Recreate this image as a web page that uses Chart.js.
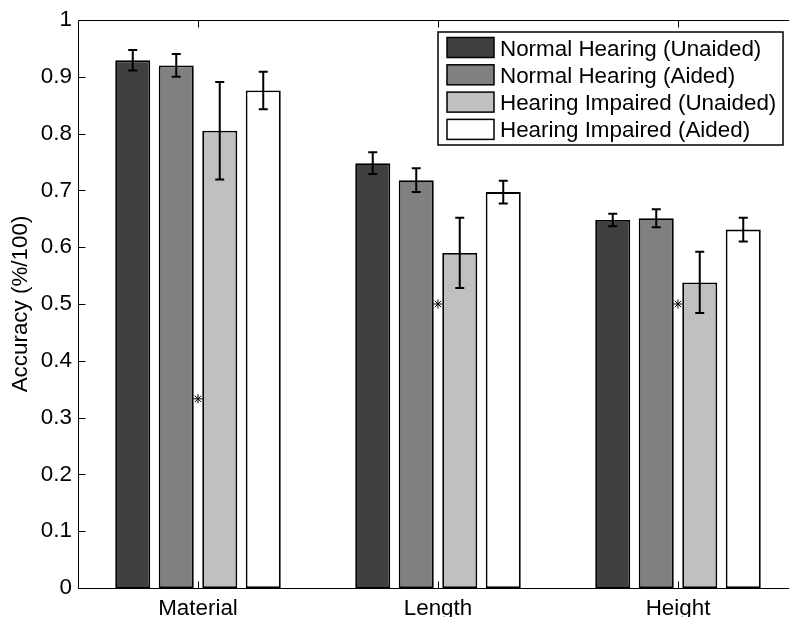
<!DOCTYPE html>
<html>
<head>
<meta charset="utf-8">
<script src="https://cdn.jsdelivr.net/npm/chart.js@4.4.1/dist/chart.umd.min.js"></script>
<style>
  html, body { margin: 0; padding: 0; background: #ffffff; overflow: hidden; }
  #wrap { width: 810px; height: 617px; }
</style>
</head>
<body>
<div id="wrap"><canvas id="c" width="810" height="617"></canvas></div>
<script>
// Task categories and y-axis tick labels
const categories = ['Material', 'Length', 'Height'];
const yTickLabels = ['0', '0.1', '0.2', '0.3', '0.4', '0.5', '0.6', '0.7', '0.8', '0.9', '1'];

// Group labels
const seriesNames = [
  'Normal Hearing (Unaided)',
  'Normal Hearing (Aided)',
  'Hearing Impaired (Unaided)',
  'Hearing Impaired (Aided)'
];

// Mean accuracy per group
const nhUnaided = [0.929, 0.748, 0.648];
const nhAided   = [0.920, 0.718, 0.651];
const hiUnaided = [0.805, 0.590, 0.538];
const hiAided   = [0.876, 0.697, 0.631];

// Error bar half-lengths per group
const nhUnaidedErr = [0.018, 0.019, 0.011];
const nhAidedErr   = [0.020, 0.021, 0.016];
const hiUnaidedErr = [0.086, 0.062, 0.054];
const hiAidedErr   = [0.033, 0.020, 0.021];

// Chance level for each task
const chanceLevel = [0.333, 0.5, 0.5];

const fills = ['#404040', '#808080', '#c0c0c0', '#ffffff'];
const FONT = '"Liberation Sans", Arial, Helvetica, sans-serif';
const FONT_SIZE = 22.4;

const values = [nhUnaided, nhAided, hiUnaided, hiAided];
const errors = [nhUnaidedErr, nhAidedErr, hiUnaidedErr, hiAidedErr];

const barSets = values.map((v, i) => ({
  type: 'bar',
  label: seriesNames[i],
  data: v,
  errors: errors[i],
  backgroundColor: fills[i],
  borderColor: '#000000',
  borderWidth: 1.8,
  borderSkipped: false,
  categoryPercentage: 0.725,
  barPercentage: 0.805,
  order: 2
}));

const chanceSet = {
  type: 'line',
  label: 'chance',
  data: chanceLevel,
  showLine: false,
  pointStyle: 'star',
  pointRadius: 4.5,
  pointBorderColor: '#000000',
  pointBackgroundColor: '#000000',
  pointBorderWidth: 1,
  order: 1
};

// Axes box with inward tick marks
const axesBox = {
  id: 'axesBox',
  afterDatasetsDraw(chart) {
    const { ctx, chartArea: a, scales } = chart;
    ctx.save();
    ctx.strokeStyle = '#000000';
    ctx.lineWidth = 1;
    ctx.beginPath();
    const L = Math.round(a.left) + 0.5, R = Math.round(a.right) + 0.5;
    const T = Math.round(a.top) + 0.5, B = Math.round(a.bottom) + 0.5;
    ctx.moveTo(L, T); ctx.lineTo(R, T); ctx.lineTo(R, B); ctx.lineTo(L, B); ctx.closePath();
    const tl = 7;
    scales.y.ticks.forEach((t, i) => {
      const y = Math.round(scales.y.getPixelForTick(i)) + 0.5;
      ctx.moveTo(L, y); ctx.lineTo(L + tl, y);
      ctx.moveTo(R, y); ctx.lineTo(R - tl, y);
    });
    categories.forEach((c, i) => {
      const x = Math.round(scales.x.getPixelForValue(i)) + 0.5;
      ctx.moveTo(x, B); ctx.lineTo(x, B - tl);
      ctx.moveTo(x, T); ctx.lineTo(x, T + tl);
    });
    ctx.stroke();
    ctx.restore();
  }
};

// Error bars on each bar
const errorBars = {
  id: 'errorBars',
  afterDatasetsDraw(chart) {
    const { ctx, scales } = chart;
    ctx.save();
    ctx.strokeStyle = '#000000';
    ctx.lineWidth = 2;
    chart.data.datasets.forEach((ds, di) => {
      if (!ds.errors) return;
      const meta = chart.getDatasetMeta(di);
      meta.data.forEach((bar, j) => {
        const v = ds.data[j], e = ds.errors[j];
        const yTop = scales.y.getPixelForValue(v + e);
        const yBot = scales.y.getPixelForValue(v - e);
        const x = bar.x, cap = 4.5;
        ctx.beginPath();
        ctx.moveTo(x, yTop); ctx.lineTo(x, yBot);
        ctx.moveTo(x - cap, yTop); ctx.lineTo(x + cap, yTop);
        ctx.moveTo(x - cap, yBot); ctx.lineTo(x + cap, yBot);
        ctx.stroke();
      });
    });
    ctx.restore();
  }
};

// Legend box in the upper right
const legendBox = {
  id: 'legendBox',
  afterDraw(chart) {
    const { ctx } = chart;
    const x0 = 438, y0 = 32, w = 345, h = 113;
    ctx.save();
    ctx.fillStyle = '#ffffff';
    ctx.fillRect(x0, y0, w, h);
    ctx.strokeStyle = '#000000';
    ctx.lineWidth = 1.5;
    ctx.strokeRect(x0, y0, w, h);
    ctx.font = FONT_SIZE + 'px ' + FONT;
    ctx.textBaseline = 'alphabetic';
    ctx.textAlign = 'left';
    const rowH = 27.3;
    chart.data.datasets.filter(d => d.type === 'bar').forEach((ds, i) => {
      const sy = 37.5 + i * rowH;
      ctx.fillStyle = ds.backgroundColor;
      ctx.fillRect(447, sy, 47, 20);
      ctx.lineWidth = 1.5;
      ctx.strokeRect(447, sy, 47, 20);
      ctx.fillStyle = '#000000';
      ctx.fillText(ds.label, 500, sy + 18);
    });
    ctx.restore();
  }
};

new Chart(document.getElementById('c'), {
  data: { labels: categories, datasets: [...barSets, chanceSet] },
  options: {
    responsive: false,
    animation: false,
    devicePixelRatio: 1,
    layout: { padding: { top: 20, right: 12, left: 0, bottom: 0 } },
    plugins: { legend: { display: false }, tooltip: { enabled: false } },
    scales: {
      x: {
        type: 'category',
        offset: true,
        grid: { display: false, drawTicks: false },
        border: { display: false },
        ticks: { color: '#000000', padding: 7, font: { family: FONT, size: FONT_SIZE }, maxRotation: 0 },
        afterFit(s) { s.height = 29; }
      },
      y: {
        min: 0,
        max: 1,
        grid: { display: false, drawTicks: false },
        border: { display: false },
        ticks: {
          stepSize: 0.1,
          color: '#000000',
          padding: 6,
          font: { family: FONT, size: FONT_SIZE },
          callback: (v, i) => yTickLabels[i]
        },
        title: {
          display: true,
          text: 'Accuracy (%/100)',
          color: '#000000',
          font: { family: FONT, size: FONT_SIZE },
          padding: { top: 7, bottom: 0 }
        },
        afterFit(s) { s.width = 78; }
      }
    }
  },
  plugins: [errorBars, axesBox, legendBox]
});
</script>
</body>
</html>
